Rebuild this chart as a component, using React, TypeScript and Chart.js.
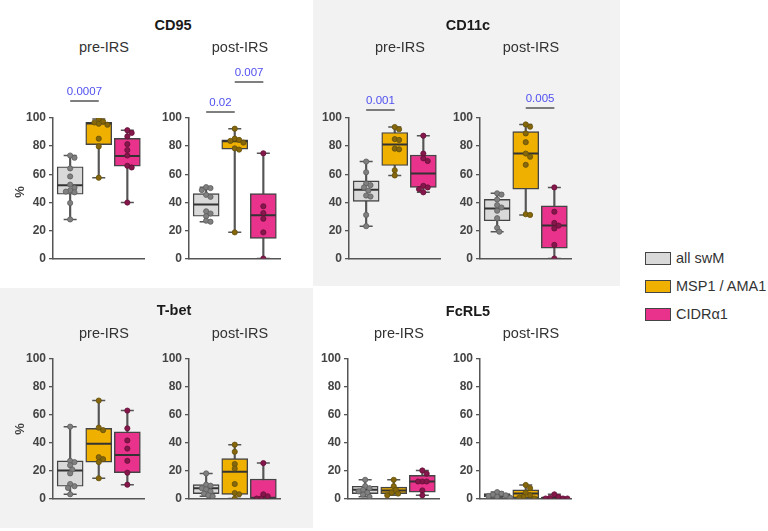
import React, { useEffect, useRef } from 'react';
import { Chart, registerables } from 'chart.js';
Chart.register(...registerables);

const FONT = '"Liberation Sans", Arial, Helvetica, sans-serif';

// ---------- data ----------
const groups = ['all swM', 'MSP1 / AMA1', 'CIDRα1'];
const markers = ['CD95', 'CD11c', 'T-bet', 'FcRL5'];
const timepoints = ['pre-IRS', 'post-IRS'];
const yTickStep = 20;

// box stats per group: [min, q1, median, q3, max]
const cd95PreBox = [[27.8, 45.7, 52.2, 65.3, 73.3], [57.5, 81.1, 96, 97, 99.3], [39.8, 65.7, 72.9, 85.5, 91.3]];
const cd95PrePts = [
  [73.3, 71.7, 64.1, 58.4, 52.6, 50.3, 48.5, 47.6, 47.1, 39.5, 27.8],
  [99.3, 97.5, 96.8, 95.9, 95.2, 85.3, 79.8, 57.5],
  [91.3, 89.4, 86.9, 81.4, 77.2, 73.3, 66, 64.8, 39.8],
];
const cd95PostBox = [[26.2, 30.1, 38.4, 46.2, 50.8], [18.6, 77.9, 83.4, 84.4, 92.4], [0, 14.3, 30.8, 46.2, 74.9]];
const cd95PostPts = [
  [50.8, 50.1, 48.7, 45.3, 43.9, 33.6, 32, 30.1, 26.9, 26.2],
  [92.4, 85.3, 84.4, 83.7, 82.5, 78.4, 77.5, 18.6],
  [74.9, 37.2, 32.4, 28.3, 18.6, 0],
];
const cd11cPreBox = [[23, 40.7, 49, 55.2, 69], [59.1, 66.2, 81.1, 89.7, 93.6], [47.1, 50.6, 60.5, 73.6, 87.4]];
const cd11cPrePts = [
  [69, 61.4, 53.3, 52.2, 50.6, 48.3, 44.8, 44.1, 31, 23],
  [93.6, 92, 85, 84.4, 78.2, 77.7, 62.8, 59.1],
  [87.4, 74.7, 71.3, 69.4, 51.7, 50.6, 49.4, 47.1],
];
const cd11cPostBox = [[19.1, 26.9, 35.6, 42.1, 46.4], [31, 49.4, 74.7, 90.3, 95.4], [0, 7.4, 23.4, 37.5, 50.6]];
const cd11cPostPts = [
  [46.4, 45.5, 42, 38, 36.3, 34, 28.7, 21.8, 19.1],
  [95.4, 93.8, 89, 82.8, 74.7, 72.4, 66.7, 31.5, 31],
  [50.6, 33.3, 25.3, 23.4, 21.4, 9.7, 0],
];
const tbetPreBox = [[3, 8.8, 20.1, 27, 51.5], [14.5, 26.1, 39.3, 50.3, 70.2], [9.9, 18.5, 31.2, 47.8, 63]];
const tbetPrePts = [
  [51.5, 27, 26.1, 23.8, 20.8, 18, 10.4, 8.8, 7.6, 3],
  [70.2, 50.8, 49, 29.6, 28.2, 26.1, 14.5],
  [63, 50.3, 41.6, 35.8, 27, 18.5, 9.9],
];
const tbetPostBox = [[1.6, 3.5, 7.4, 9.9, 18], [0, 3, 19.2, 28.6, 38.6], [0, 0, 0, 13.9, 25.4]];
const tbetPostPts = [
  [18, 9.9, 9.2, 7.4, 6.5, 5.1, 3.5, 2.3, 1.6],
  [38.6, 33.5, 24.7, 21.5, 10.4, 3.9, 3, 0],
  [25.4, 3, 1.6, 0, 0],
];
const fcrl5PreBox = [[1.2, 3.5, 6.2, 8.8, 13.4], [2.3, 3.5, 5.8, 8.1, 13.4], [2.3, 4.6, 12.2, 16.6, 20.1]];
const fcrl5PrePts = [
  [13.4, 8.8, 7.4, 6.2, 5.1, 4.2, 2.8, 1.2],
  [13.4, 8.8, 6.2, 4.2, 3.5, 2.3],
  [20.1, 17.8, 12.2, 12.2, 12.2, 5.8, 2.3],
];
const fcrl5PostBox = [[0.5, 1.2, 2.3, 3.5, 4.6], [0, 0.5, 3.5, 6.2, 9.7], [0, 0, 0.5, 1, 3]];
const fcrl5PostPts = [
  [4.6, 3.5, 2.8, 2.3, 1.8, 1.2, 0.5],
  [9.7, 7.4, 4.2, 2.3, 1.2, 0.5, 0],
  [3, 1, 0.5, 0, 0, 0],
];

type PVal = { from: number; to: number; label: string };
const cd95PrePvals: PVal[] = [{ from: 0, to: 1, label: '0.0007' }];
const cd95PostPvals: PVal[] = [{ from: 0, to: 1, label: '0.02' }, { from: 1, to: 2, label: '0.007' }];
const cd11cPrePvals: PVal[] = [{ from: 0, to: 1, label: '0.001' }];
const cd11cPostPvals: PVal[] = [{ from: 1, to: 2, label: '0.005' }];
const noPvals: PVal[] = [];

// ---------- styles / layout ----------
const BOX_FILL = ['#d9d9d9', '#f0b000', '#e8328c'];
const DOT_FILL = ['#808080', '#86670c', '#86174c'];
const DOT_EDGE = ['#5e5e5e', '#65500a', '#651036'];
const LINE = '#555555';
const BG = '#f2f2f2';
const P_COLOR = '#5050f0';

const AXIS_W = 48;
const PLOT_W = 102;
const TOP_PAD = 60;
const RIGHT_PAD = 4;
const BOTTOM_PAD = 10;
const X_MIN = -0.6;
const X_MAX = 2.6;

const panels = [
  { box: cd95PreBox, pts: cd95PrePts, pv: cd95PrePvals, axisX: 53, top: 118, plotH: 145, bracketPx: [17], m: 0, t: 0 },
  { box: cd95PostBox, pts: cd95PostPts, pv: cd95PostPvals, axisX: 189, top: 118, plotH: 145, bracketPx: [6, 36], m: 0, t: 1 },
  { box: cd11cPreBox, pts: cd11cPrePts, pv: cd11cPrePvals, axisX: 349, top: 118, plotH: 145, bracketPx: [8], m: 1, t: 0 },
  { box: cd11cPostBox, pts: cd11cPostPts, pv: cd11cPostPvals, axisX: 480, top: 118, plotH: 145, bracketPx: [10], m: 1, t: 1 },
  { box: tbetPreBox, pts: tbetPrePts, pv: noPvals, axisX: 53, top: 359, plotH: 144, bracketPx: [], m: 2, t: 0 },
  { box: tbetPostBox, pts: tbetPostPts, pv: noPvals, axisX: 189, top: 359, plotH: 144, bracketPx: [], m: 2, t: 1 },
  { box: fcrl5PreBox, pts: fcrl5PrePts, pv: noPvals, axisX: 348, top: 359, plotH: 144, bracketPx: [], m: 3, t: 0 },
  { box: fcrl5PostBox, pts: fcrl5PostPts, pv: noPvals, axisX: 480, top: 359, plotH: 144, bracketPx: [], m: 3, t: 1 },
];

const titlePos = [
  { x: 173, y: 25 },
  { x: 468, y: 25 },
  { x: 174, y: 310 },
  { x: 468, y: 311 },
];

function swarmOffsets(vals: number[], pxX: number, pxY: number, diam: number): number[] {
  const placed: { y: number; dx: number }[] = [];
  const step = (diam * 0.55) / pxX;
  return vals.map((v) => {
    for (let k = 0; k < 21; k++) {
      const m = k === 0 ? 0 : k % 2 === 1 ? (k + 1) / 2 : -k / 2;
      const dx = m * step;
      const ok = placed.every((p) => Math.hypot((dx - p.dx) * pxX, (v - p.y) * pxY) >= diam);
      if (ok) {
        placed.push({ y: v, dx });
        return dx;
      }
    }
    placed.push({ y: v, dx: 0 });
    return 0;
  });
}

interface PanelProps {
  box: number[][];
  pts: number[][];
  pv: PVal[];
  axisX: number;
  top: number;
  plotH: number;
  bracketPx: number[];
}

function Panel({ box, pts, pv, axisX, top, plotH, bracketPx }: PanelProps) {
  const ref = useRef<HTMLCanvasElement>(null);
  useEffect(() => {
    const pxX = PLOT_W / (X_MAX - X_MIN);
    const pxY = plotH / 100;
    const dotSets = pts.map((vals, g) => {
      const offs = swarmOffsets(vals, pxX, pxY, 4.4);
      return {
        type: 'scatter' as const,
        data: vals.map((v, k) => ({ x: g + offs[k], y: v })),
        pointStyle: 'circle',
        pointRadius: 2.6,
        pointBackgroundColor: DOT_FILL[g],
        pointBorderColor: DOT_EDGE[g],
        pointBorderWidth: 0.8,
        order: 1,
      };
    });
    const pPlugin = {
      id: 'pvals',
      afterDraw(chart: any) {
        const { ctx } = chart;
        const xs = chart.scales.x;
        const ys = chart.scales.y;
        const y100 = ys.getPixelForValue(100);
        ctx.save();
        pv.forEach((p, i) => {
          const ly = y100 - bracketPx[i];
          const x1 = xs.getPixelForValue(p.from);
          const x2 = xs.getPixelForValue(p.to);
          ctx.strokeStyle = LINE;
          ctx.lineWidth = 1.5;
          ctx.beginPath();
          ctx.moveTo(x1, ly);
          ctx.lineTo(x2, ly);
          ctx.stroke();
          ctx.fillStyle = P_COLOR;
          ctx.font = `11.5px ${FONT}`;
          ctx.textAlign = 'center';
          ctx.textBaseline = 'alphabetic';
          ctx.fillText(p.label, (x1 + x2) / 2, ly - 6);
        });
        ctx.restore();
      },
    };
    const chart = new Chart(ref.current as HTMLCanvasElement, {
      type: 'bar',
      data: {
        datasets: [
          {
            type: 'bar',
            data: box.map((b, i) => ({ x: i, y: [b[0], b[4]] })) as any,
            backgroundColor: LINE,
            borderWidth: 0,
            barThickness: 1.5,
            grouped: false,
            order: 5,
          } as any,
          {
            type: 'bar',
            data: box.map((b, i) => ({ x: i, y: [b[1], b[3]] })) as any,
            backgroundColor: BOX_FILL,
            borderColor: '#444444',
            borderWidth: 1.4,
            borderSkipped: false,
            barThickness: 26,
            grouped: false,
            order: 4,
          } as any,
          {
            type: 'scatter',
            data: box.flatMap((b, i) => [{ x: i, y: b[0] }, { x: i, y: b[4] }]),
            pointStyle: 'line',
            pointRadius: 6.5,
            pointBorderColor: LINE,
            pointBorderWidth: 1.5,
            order: 3,
          } as any,
          {
            type: 'scatter',
            data: box.map((b, i) => ({ x: i, y: b[2] })),
            pointStyle: 'line',
            pointRadius: 12.5,
            pointBorderColor: '#333333',
            pointBorderWidth: 2,
            order: 2,
          } as any,
          ...(dotSets as any[]),
        ],
      },
      options: {
        responsive: true,
        maintainAspectRatio: false,
        animation: false,
        events: [],
        layout: { padding: { top: TOP_PAD, right: RIGHT_PAD, bottom: BOTTOM_PAD, left: 0 } },
        plugins: { legend: { display: false }, tooltip: { enabled: false }, title: { display: false } },
        scales: {
          x: {
            type: 'linear',
            offset: false,
            min: X_MIN,
            max: X_MAX,
            ticks: { display: false },
            grid: { display: false, offset: false },
            border: { display: true, color: LINE, width: 1.5 },
            afterFit: (s: any) => {
              s.height = 0;
            },
          },
          y: {
            type: 'linear',
            min: 0,
            max: 100,
            ticks: {
              stepSize: yTickStep,
              color: '#444444',
              padding: 3,
              font: { family: FONT, size: 12, weight: 'bold' },
            },
            grid: {
              display: true,
              drawOnChartArea: false,
              drawTicks: true,
              tickLength: 4,
              color: LINE,
              lineWidth: 1.3,
            },
            border: { display: true, color: LINE, width: 1.5 },
            afterFit: (s: any) => {
              s.width = AXIS_W;
            },
          },
        },
      } as any,
      plugins: [pPlugin],
    });
    return () => chart.destroy();
  }, []);
  return (
    <div
      style={{
        position: 'absolute',
        left: axisX - AXIS_W,
        top: top - TOP_PAD,
        width: AXIS_W + PLOT_W + RIGHT_PAD,
        height: TOP_PAD + plotH + BOTTOM_PAD,
      }}
    >
      <canvas ref={ref} />
    </div>
  );
}

function Label({ x, y, text, size, bold, color, rotate }: { x: number; y: number; text: string; size: number; bold?: boolean; color?: string; rotate?: boolean }) {
  return (
    <div
      style={{
        position: 'absolute',
        left: x,
        top: y,
        transform: `translate(-50%, -50%)${rotate ? ' rotate(-90deg)' : ''}`,
        fontFamily: FONT,
        fontSize: size,
        fontWeight: bold ? 'bold' : 'normal',
        color: color || '#333333',
        whiteSpace: 'nowrap',
        lineHeight: 1,
      }}
    >
      {text}
    </div>
  );
}

export default function App() {
  return (
    <div style={{ position: 'absolute', left: 0, top: 0, width: 768, height: 531, background: '#ffffff', overflow: 'hidden' }}>
      <div style={{ position: 'absolute', left: 313, top: 0, width: 307, height: 286, background: BG }} />
      <div style={{ position: 'absolute', left: 0, top: 288, width: 313, height: 240, background: BG }} />
      {panels.map((p, i) => (
        <Panel key={i} box={p.box} pts={p.pts} pv={p.pv} axisX={p.axisX} top={p.top} plotH={p.plotH} bracketPx={p.bracketPx} />
      ))}
      {markers.map((m, i) => (
        <Label key={m} x={titlePos[i].x} y={titlePos[i].y} text={m} size={14.5} bold color="#1a1a1a" />
      ))}
      {panels.map((p, i) => (
        <Label key={'tp' + i} x={p.axisX + PLOT_W / 2} y={p.top < 200 ? 47 : 333} text={timepoints[p.t]} size={14.5} color="#333333" />
      ))}
      <Label x={19} y={192} text="%" size={13} bold rotate color="#444444" />
      <Label x={19} y={429} text="%" size={13} bold rotate color="#444444" />
      {groups.map((g, i) => (
        <div key={g} style={{ position: 'absolute', left: 645, top: 252 + i * 28, height: 13, display: 'flex', alignItems: 'center' }}>
          <div style={{ width: 24, height: 11, background: BOX_FILL[i], border: '1.3px solid #444444' }} />
          <div style={{ marginLeft: 5, fontFamily: FONT, fontSize: 14.5, color: '#333333', whiteSpace: 'nowrap', lineHeight: 1 }}>{g}</div>
        </div>
      ))}
    </div>
  );
}
